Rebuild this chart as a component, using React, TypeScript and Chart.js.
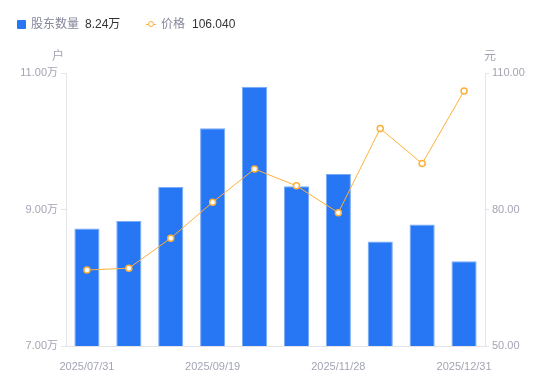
import React, { useEffect, useRef } from "react";
import { Chart, registerables } from "chart.js";

Chart.register(...registerables);

const dates = [
  "2025/07/31", "2025/08/20", "2025/08/31", "2025/09/19", "2025/09/30",
  "2025/10/20", "2025/11/28", "2025/12/10", "2025/12/20", "2025/12/31",
];
const holders = [8.72, 8.83, 9.33, 10.19, 10.8, 9.34, 9.52, 8.53, 8.78, 8.24];
const prices = [66.7, 67.1, 73.7, 81.6, 88.9, 85.2, 79.3, 97.8, 90.1, 106.04];
const shownTickIdx = [0, 3, 6, 9];
const leftTitle = "户";
const rightTitle = "元";

const FONT = '"Liberation Sans", "Noto Sans CJK SC", sans-serif';
const TICK_COLOR = "#a3a5b4";
const AXIS_COLOR = "#e3e3e8";
const BLUE = "#2777f4";
const ORANGE = "#fdb03a";

export default function App() {
  const ref = useRef<HTMLCanvasElement>(null);
  useEffect(() => {
    document.body.style.margin = "0";
    const titles = {
      id: "axisTitles",
      afterDraw(chart: any) {
        const { ctx, chartArea } = chart;
        ctx.save();
        ctx.font = `12px ${FONT}`;
        ctx.fillStyle = TICK_COLOR;
        ctx.textBaseline = "middle";
        ctx.textAlign = "center";
        ctx.fillText(leftTitle, chartArea.left - 8, chartArea.top - 16);
        ctx.fillText(rightTitle, chartArea.right + 5, chartArea.top - 16);
        ctx.restore();
      },
    };
    const chart = new Chart(ref.current!, {
      type: "bar",
      data: {
        labels: dates,
        datasets: [
          {
            type: "line",
            label: "价格",
            data: prices,
            yAxisID: "y1",
            borderColor: ORANGE,
            borderWidth: 1,
            pointRadius: 3,
            pointBorderWidth: 1.5,
            pointBackgroundColor: "#ffffff",
            pointBorderColor: ORANGE,
            tension: 0,
            order: 0,
          } as any,
          {
            type: "bar",
            label: "股东数量",
            data: holders,
            yAxisID: "y",
            backgroundColor: BLUE,
            borderColor: "#7aaaf8",
            borderWidth: 1,
            barPercentage: 0.6,
            categoryPercentage: 1,
            order: 1,
          },
        ],
      },
      options: {
        responsive: false,
        animation: false,
        layout: { padding: { top: 73, left: 0, right: 0, bottom: 0 } },
        plugins: { legend: { display: false }, tooltip: { enabled: false } },
        scales: {
          x: {
            grid: { display: false },
            border: { display: true, color: AXIS_COLOR },
            ticks: {
              autoSkip: false,
              maxRotation: 0,
              padding: 6,
              color: TICK_COLOR,
              font: { size: 11, family: FONT },
              callback: (_v: any, i: number) => (shownTickIdx.includes(i) ? dates[i] : ""),
            },
            afterFit: (s: any) => { s.height = 35; },
          },
          y: {
            position: "left",
            min: 7,
            max: 11,
            ticks: {
              stepSize: 2,
              padding: 3,
              color: TICK_COLOR,
              font: { size: 11, family: FONT },
              callback: (v: any) => Number(v).toFixed(2) + "万",
            },
            grid: { drawOnChartArea: false, tickLength: 5, color: AXIS_COLOR },
            border: { display: true, color: AXIS_COLOR },
            afterFit: (s: any) => { s.width = 66; },
          },
          y1: {
            position: "right",
            min: 50,
            max: 110,
            ticks: {
              stepSize: 30,
              padding: 3,
              color: TICK_COLOR,
              font: { size: 11, family: FONT },
              callback: (v: any) => Number(v).toFixed(2),
            },
            grid: { drawOnChartArea: false, tickLength: 4, color: AXIS_COLOR },
            border: { display: true, color: AXIS_COLOR },
            afterFit: (s: any) => { s.width = 65; },
          },
        },
      },
      plugins: [titles],
    });
    return () => chart.destroy();
  }, []);

  const lastH = holders[holders.length - 1];
  const lastP = prices[prices.length - 1];
  const txt: React.CSSProperties = {
    position: "absolute",
    top: 17,
    fontSize: 12,
    lineHeight: "15px",
    fontFamily: FONT,
    whiteSpace: "nowrap",
  };
  return (
    <div style={{ position: "absolute", left: 0, top: 0, width: 550, height: 381, background: "#fff" }}>
      <canvas ref={ref} width={550} height={381} style={{ position: "absolute", left: 0, top: 0 }} />
      <div style={{ position: "absolute", left: 17, top: 20, width: 9, height: 9, background: BLUE, borderRadius: 1 }} />
      <div style={{ ...txt, left: 31, color: "#85869a" }}>股东数量</div>
      <div style={{ ...txt, left: 85, color: "#333333" }}>{lastH.toFixed(2)}万</div>
      <div style={{ position: "absolute", left: 146, top: 24, width: 10, height: 1, background: ORANGE }} />
      <div style={{ position: "absolute", left: 148, top: 21, width: 4, height: 4, borderRadius: "50%", border: `1.5px solid ${ORANGE}`, background: "#fff" }} />
      <div style={{ ...txt, left: 161, color: "#85869a" }}>价格</div>
      <div style={{ ...txt, left: 192, color: "#333333" }}>{lastP.toFixed(3)}</div>
    </div>
  );
}
